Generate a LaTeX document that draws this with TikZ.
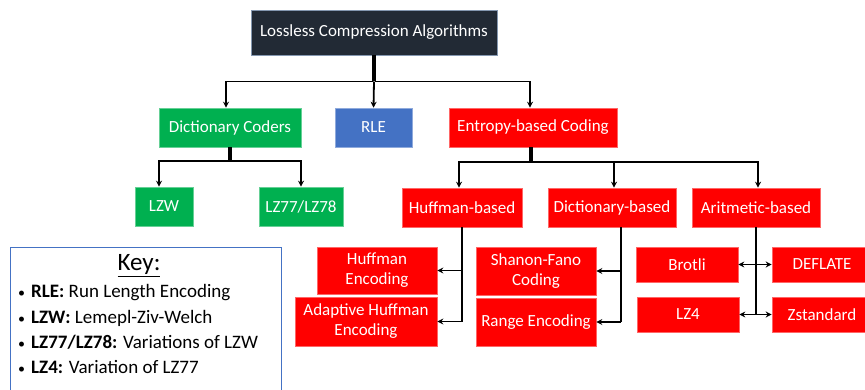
\documentclass[tikz,border=0pt]{standalone}
\usepackage{fontspec}
\setmainfont{Carlito}
\usetikzlibrary{arrows.meta}
\definecolor{rootc}{HTML}{222A35}
\definecolor{rootb}{HTML}{8497B0}
\definecolor{grn}{HTML}{00B050}
\definecolor{blu}{HTML}{4472C4}
\definecolor{rd}{HTML}{FF0000}
\definecolor{keyb}{HTML}{4472C4}
\newcommand{\keybul}{\makebox[14pt][l]{\hspace{1pt}{\fontsize{14}{14}\selectfont•}}}
\tikzset{
  box/.style={rectangle, inner sep=0pt, text=white, align=center,
    font=\fontsize{17}{20}\selectfont, line width=0.6pt},
  redbox/.style={box, fill=rd, draw=rd!60!white},
  grnbox/.style={box, fill=grn, draw=grn!60!white},
  trunk/.style={line width=3.4pt, draw=black},
  conn/.style={line width=1.8pt, draw=black},
  arr/.style={conn, -{Stealth[length=6pt,width=6pt]}},
  keyline/.style={anchor=base west, inner sep=0pt, font=\fontsize{19}{22}\selectfont}
}
\begin{document}
\begin{tikzpicture}[x=1pt,y=-1pt]
\useasboundingbox (0,0) rectangle (865,390);
% nodes
\node[box, fill=rootc, draw=rootb, minimum width=246pt, minimum height=45pt] (root) at (374,32.5) {Lossless Compression Algorithms};
\node[grnbox, minimum width=142pt, minimum height=39pt] (dc) at (230,127.5) {Dictionary Coders};
\node[box, fill=blu, draw=blu!60!white, minimum width=77pt, minimum height=39pt] (rle) at (373.5,127.5) {RLE};
\node[redbox, minimum width=168pt, minimum height=39pt] (ebc) at (533,127.5) {Entropy-based Coding};
\node[grnbox, minimum width=58pt, minimum height=39pt] (lzw) at (164,206.5) {LZW};
\node[grnbox, minimum width=84pt, minimum height=39pt] (lz77) at (301,206.5) {LZ77/LZ78};
\node[redbox, minimum width=120pt, minimum height=39pt] (hb) at (462,207.5) {Huffman-based};
\node[redbox, minimum width=128pt, minimum height=39pt] (db) at (612,207.5) {Dictionary-based};
\node[redbox, minimum width=128pt, minimum height=39pt] (ab) at (756,207.5) {Aritmetic-based};
\node[redbox, minimum width=120pt, minimum height=47pt] (he) at (377,270.5) {Huffman\\Encoding};
\node[redbox, minimum width=142pt, minimum height=49pt] (ahe) at (366,321.5) {Adaptive Huffman\\Encoding};
\node[redbox, minimum width=120pt, minimum height=48pt] (sf) at (536,271) {Shanon-Fano\\Coding};
\node[redbox, minimum width=120pt, minimum height=48pt] (re) at (536,322) {Range Encoding};
\node[redbox, minimum width=102pt, minimum height=35pt] (brotli) at (687,264.5) {Brotli};
\node[redbox, minimum width=100pt, minimum height=35pt] (deflate) at (822,264.5) {DEFLATE};
\node[redbox, minimum width=102pt, minimum height=35pt] (lz4) at (688,314.5) {LZ4};
\node[redbox, minimum width=100pt, minimum height=35pt] (zst) at (822,314.5) {Zstandard};
% key
\node[draw=keyb, line width=1.2pt, fill=white, anchor=north west, minimum width=271pt, minimum height=160pt, inner sep=0pt] (key) at (10,247) {};
\node[anchor=base, inner sep=0pt, font=\fontsize{25}{28}\selectfont] (keyt) at (139,271) {\underline{Key:}};
\node[keyline] (k1) at (17,298) {\keybul\textbf{RLE:} Run Length Encoding};
\node[keyline] (k2) at (17,323) {\keybul\textbf{LZW:} Lemepl-Ziv-Welch};
\node[keyline] (k3) at (17,348) {\keybul\textbf{LZ77/LZ78:} Variations of LZW};
\node[keyline] (k4) at (17,373) {\keybul\textbf{LZ4:} Variation of LZ77};
% junctions
\coordinate (j1) at (374,81.5);
\coordinate (j2) at (531,162);
\coordinate (j3) at (230,161);
\coordinate (h1) at (462,270.5);
\coordinate (h2) at (462,321.5);
\coordinate (d0) at (621,227.5);
\coordinate (d1) at (621,271);
\coordinate (d2) at (621,322);
\coordinate (a1) at (756,264.5);
\coordinate (a2) at (756,314.5);
% connectors top
\draw[trunk] (root.south) -- (j1);
\draw[arr] ([xshift=-1pt]j1) -| ([xshift=-4pt]dc.north);
\draw[arr] ([xshift=1pt]j1) -| ([xshift=-3pt]ebc.north);
\draw[arr] (j1) -- (rle.north);
% dictionary coders
\draw[trunk] (dc.south) -- (j3);
\draw[arr] (j3) -| ([xshift=-5pt]lzw.north);
\draw[arr] (j3) -| (lz77.north);
% entropy
\draw[trunk] ([xshift=-2pt]ebc.south) -- (j2);
\draw[arr] (j2) -| ([xshift=-3pt]hb.north);
\draw[arr] (j2) -| ([xshift=2pt]db.north);
\draw[arr] (j2) -| ([xshift=2pt]ab.north);
% huffman
\draw[conn] (hb.south) -- (h2);
\draw[arr] (h1) -- (he.east);
\draw[arr] (h2) -- (ahe.east);
% dictionary-based
\draw[conn] (d0) -- (d2);
\draw[arr] (d1) -- (sf.east);
\draw[arr] (d2) -- (re.east);
% arithmetic
\draw[conn] (ab.south) -- (a2);
\draw[arr] (a1) -- (brotli.east);
\draw[arr] (a1) -- (deflate.west);
\draw[arr] (a2) -- (lz4.east);
\draw[arr] (a2) -- (zst.west);
\end{tikzpicture}
\end{document}
